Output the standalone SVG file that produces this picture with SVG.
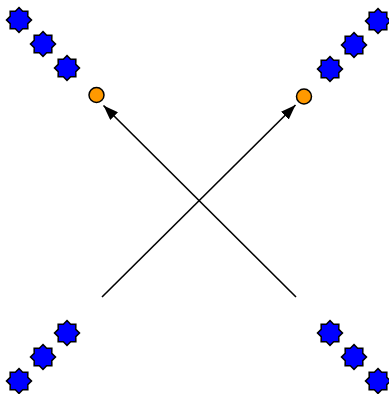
<svg xmlns="http://www.w3.org/2000/svg" xmlns:xlink="http://www.w3.org/1999/xlink" width="389" height="394" viewBox="0 0 389 394">
<style>
.star{fill:#0000ff;stroke:#000;stroke-width:1.5;stroke-linejoin:miter}
.dot{fill:#ff9900;stroke:#000;stroke-width:1.5}
.edge{stroke:#000;stroke-width:1.6;fill:none}
</style>
<defs>
<polygon id="s" points="0,-12.5 3.64,-8.78 8.84,-8.84 8.78,-3.64 12.5,0 8.78,3.64 8.84,8.84 3.64,8.78 0,12.5 -3.64,8.78 -8.84,8.84 -8.78,3.64 -12.5,0 -8.78,-3.64 -8.84,-8.84 -3.64,-8.78"/>
<marker id="ah" viewBox="0 0 15 11" refX="15" refY="5.5" markerWidth="15" markerHeight="11" markerUnits="userSpaceOnUse" orient="auto">
<path d="M0,0 L15,5.5 L0,11 Z" fill="#000"/>
</marker>
</defs>
<g id="connectors">
<line class="edge" x1="102" y1="297" x2="295.5" y2="105" marker-end="url(#ah)"/>
<line class="edge" x1="296" y1="297" x2="103.5" y2="105.5" marker-end="url(#ah)"/>
</g>
<g id="tl"><use xlink:href="#s" class="star" x="19" y="20"/><use xlink:href="#s" class="star" x="43" y="44"/><use xlink:href="#s" class="star" x="67" y="68"/><circle class="dot" cx="96.5" cy="95" r="7.5"/></g>
<g id="tr"><use xlink:href="#s" class="star" x="378" y="21"/><use xlink:href="#s" class="star" x="354" y="45"/><use xlink:href="#s" class="star" x="330" y="69"/><circle class="dot" cx="304" cy="96.5" r="7.5"/></g>
<g id="bl"><use xlink:href="#s" class="star" x="67" y="333"/><use xlink:href="#s" class="star" x="43" y="357"/><use xlink:href="#s" class="star" x="19" y="381"/></g>
<g id="br"><use xlink:href="#s" class="star" x="330" y="333"/><use xlink:href="#s" class="star" x="354" y="357"/><use xlink:href="#s" class="star" x="378" y="381"/></g>
</svg>
